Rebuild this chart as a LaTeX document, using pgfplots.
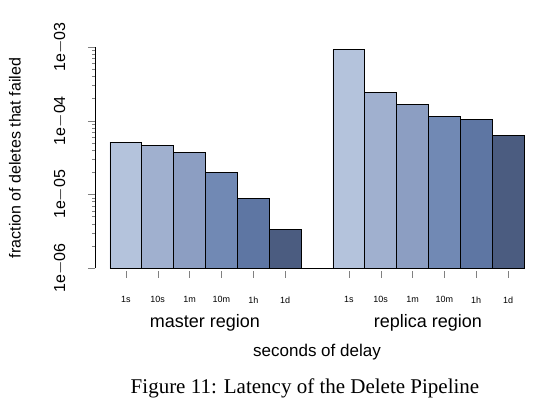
\documentclass[border=0pt]{standalone}
\usepackage{pgfplots}
\pgfplotsset{compat=1.18}
\usepackage{fontspec}
\setmainfont{Liberation Sans}
\newfontfamily\serif{Liberation Serif}
\definecolor{c1}{HTML}{B4C3DC}
\definecolor{c2}{HTML}{A0B0CF}
\definecolor{c3}{HTML}{8C9EC2}
\definecolor{c4}{HTML}{7189B4}
\definecolor{c5}{HTML}{5E76A3}
\definecolor{c6}{HTML}{4B5C80}
\begin{document}
\begin{tikzpicture}
\begin{axis}[
  scale only axis, width=429pt, height=221pt,
  xmin=-0.97, xmax=12.5, ymode=log, ymin=1e-6, ymax=1e-3,
  log origin y=infty,
  axis x line=bottom, axis y line=left,
  x axis line style={draw=none}, y axis line style={-},
  tick align=outside, major tick length=7pt,
  xtick={0,1,2,3,4,5,7,8,9,10,11,12},
  xticklabels={1s,10s,1m,10m,1h,1d,1s,10s,1m,10m,1h,1d},
  xticklabel style={font=\fontsize{9}{10}\selectfont, yshift=-18pt},
  x tick style={yshift=-3pt},
  ytick={1e-6,1e-5,1e-4,1e-3},
  yticklabels={1e$-$06,1e$-$05,1e$-$04,1e$-$03},
  yticklabel style={rotate=90, anchor=south, font=\fontsize{16}{18}\selectfont},
  yticklabel shift=18pt,
  ybar, bar width=1, bar shift=0pt,
  every axis plot/.append style={draw=black, line width=0.8pt},
  clip=false,
]
\addplot[fill=c1] coordinates {(0,5.1e-5) (7,9.2e-4)};
\addplot[fill=c2] coordinates {(1,4.6e-5) (8,2.4e-4)};
\addplot[fill=c3] coordinates {(2,3.7e-5) (9,1.65e-4)};
\addplot[fill=c4] coordinates {(3,1.96e-5) (10,1.13e-4)};
\addplot[fill=c5] coordinates {(4,8.7e-6) (11,1.03e-4)};
\addplot[fill=c6] coordinates {(5,3.3e-6) (12,6.25e-5)};
\addplot[sharp plot, draw=black, line width=0.6pt] coordinates {(-0.5,1e-6) (12.5,1e-6)};
\end{axis}
\node[font=\fontsize{18}{20}\selectfont] at (110pt,-55pt) {master region};
\node[font=\fontsize{18}{20}\selectfont] at (333pt,-55pt) {replica region};
\node[font=\fontsize{17}{19}\selectfont] at (222pt,-84pt) {seconds of delay};
\node[rotate=90, font=\fontsize{16}{18}\selectfont] at (-80pt,110pt) {fraction of deletes that failed};
\node[font=\serif\fontsize{21}{23}\selectfont] at (210pt,-120pt) {Figure 11: Latency of the Delete Pipeline};
\useasboundingbox (-95pt,-140pt) rectangle (441pt,268pt);
\end{tikzpicture}
\end{document}
